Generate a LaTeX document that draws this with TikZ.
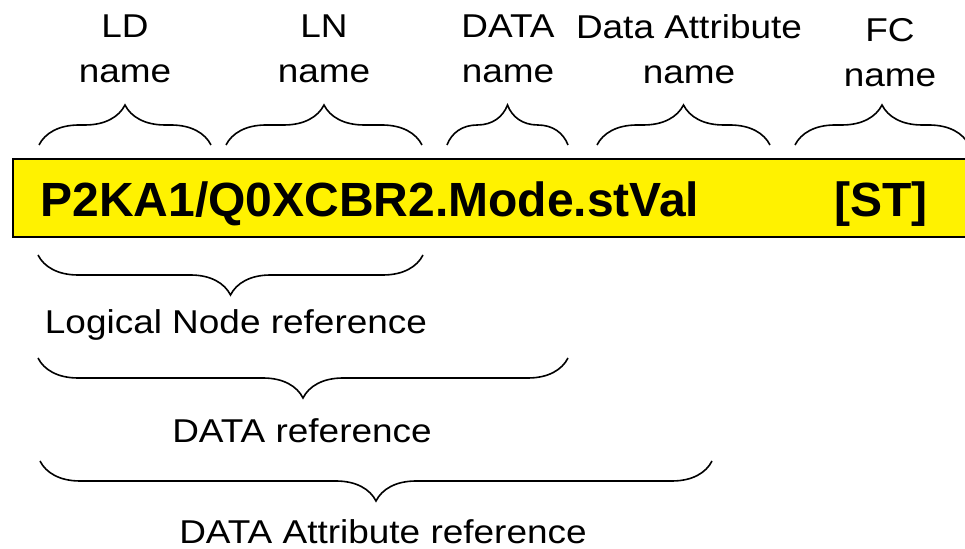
\documentclass[tikz,border=0pt]{standalone}
\usepackage{fontspec}
\setmainfont{Liberation Sans}
\newfontfamily\lblfont[FakeStretch=1.12]{Liberation Sans}
\usetikzlibrary{decorations.pathreplacing,positioning}

\begin{document}
\begin{tikzpicture}[x=0.5pt,y=-0.5pt,
    lbl/.style={font=\lblfont\fontsize{16.5}{22.5}\selectfont,inner sep=0pt,align=center},
    reftext/.style={font=\bfseries\fontsize{24}{28}\selectfont,inner sep=0pt},
    topbrace/.style={decorate,decoration={brace,amplitude=20pt},line width=0.8pt},
    lowbrace/.style={decorate,decoration={brace,mirror,amplitude=20pt},line width=0.8pt}]
  \useasboundingbox (0,0) rectangle (965,549);

  \draw[fill=yellow,line width=1pt] (13,159) rectangle (975,237);
  \node[reftext,anchor=base west] (path) at (40,217) {P2KA1/Q0XCBR2.Mode.stVal};
  \node[reftext,anchor=base] (fcval) at (881,217) {[ST]};

  % names above the bar
  \foreach \n/\a/\b in {ld/39/211,ln/226/422,do/447/568,da/597/770,fc/795/969}
    \draw[topbrace] (\a,145) coordinate (t\n-l) -- (\b,145) coordinate (t\n-r);
  \node[lbl,anchor=north] (ld) at (125,14) {LD\\name};
  \node[lbl,anchor=north] (ln) at (324,14) {LN\\name};
  \node[lbl,anchor=north] (do) at (508,14) {DATA\\name};
  \node[lbl,anchor=north] (da) at (689,14) {Data Attribute\\name};
  \node[lbl,anchor=north] (fc) at (890,18) {FC\\name};

  % references below the bar
  \foreach \n/\a/\b/\y in {lnref/38/423/255,doref/38/568/358,daref/40/712/461}
    \draw[lowbrace] (\a,\y) coordinate (\n-l) -- (\b,\y) coordinate (\n-r);
  \node[lbl,anchor=base] (lnref) at (236,334) {Logical Node reference};
  \node[lbl,anchor=base] (doref) at (302,443) {DATA reference};
  \node[lbl,anchor=base] (daref) at (383,544) {DATA Attribute reference};
\end{tikzpicture}
\end{document}
